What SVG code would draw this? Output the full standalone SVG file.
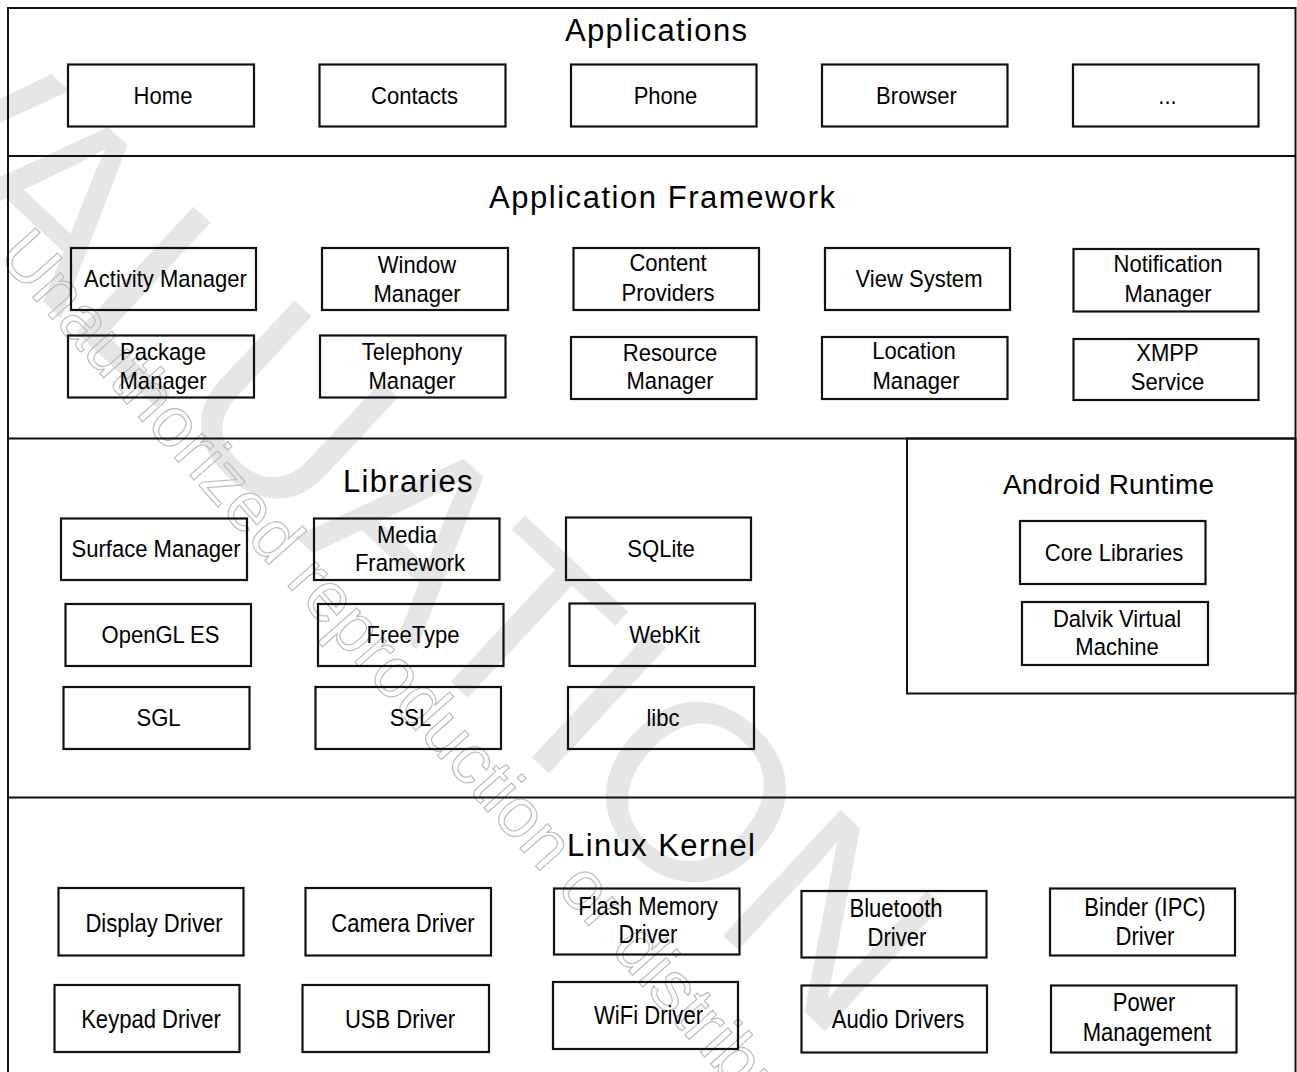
<svg xmlns="http://www.w3.org/2000/svg" width="1297" height="1072" viewBox="0 0 1297 1072">
<style>
.wm{font-family:"Liberation Sans",Arial,sans-serif;font-size:250px;fill:#e6e6e6}
.wm2{font-family:"Liberation Sans",Arial,sans-serif;font-size:70px;fill:none;stroke:#bdbdbd;stroke-width:1.2}
.frame{fill:none;stroke:#111;stroke-width:2}
.box{fill:none;stroke:#111;stroke-width:2.2}
.lbl{font-family:"Liberation Sans",Arial,sans-serif;font-size:24.5px;fill:#000;text-anchor:middle}
.k{font-size:25.5px}
.hd{font-family:"Liberation Sans",Arial,sans-serif;font-size:31px;fill:#000;text-anchor:start}
</style>
<rect width="1297" height="1072" fill="#fff"/>
<g id="watermark">
<text class="wm" transform="translate(-291,-10) rotate(43)">EVALUATION</text>
<text class="wm2" transform="translate(-4,256) rotate(48.5)">Unauthorized reproduction or distribution</text>
</g>
<g id="connectors">
<path class="frame" d="M8,1073 V8 H1295.5 V1073"/>
<line class="frame" x1="8" y1="156" x2="1295.5" y2="156"/>
<line class="frame" x1="8" y1="438.5" x2="1295.5" y2="438.5"/>
<line class="frame" x1="8" y1="797.5" x2="1295.5" y2="797.5"/>
</g>
<g id="layer-applications">
<text class="hd" x="565" y="41" textLength="182" lengthAdjust="spacing">Applications</text>
</g>
<g id="layer-framework">
<text class="hd" x="489" y="208" textLength="346" lengthAdjust="spacing">Application Framework</text>
</g>
<g id="layer-libraries">
<text class="hd" x="343" y="492" textLength="129.5" lengthAdjust="spacing">Libraries</text>
</g>
<g id="android-runtime">
<rect class="frame" x="907" y="438.5" width="388.5" height="255"/>
<text class="hd" x="1003" y="494" style="font-size:28px" textLength="211" lengthAdjust="spacing">Android Runtime</text>
</g>
<g id="layer-kernel">
<text class="hd" x="567" y="856" textLength="188" lengthAdjust="spacing">Linux Kernel</text>
</g>

<g id="home"><rect class="box" x="68" y="64.5" width="186" height="62"/><text class="lbl" transform="translate(163,104) scale(.9,1)">Home</text></g>
<g id="contacts"><rect class="box" x="319.5" y="64.5" width="186" height="62"/><text class="lbl" transform="translate(414.5,104) scale(.9,1)">Contacts</text></g>
<g id="phone"><rect class="box" x="571" y="64.5" width="185.5" height="62"/><text class="lbl" transform="translate(665.5,104) scale(.9,1)">Phone</text></g>
<g id="browser"><rect class="box" x="822" y="64.5" width="185.5" height="62"/><text class="lbl" transform="translate(916.5,104) scale(.9,1)">Browser</text></g>
<g id="more-apps"><rect class="box" x="1073" y="64.5" width="185.5" height="62"/><text class="lbl" transform="translate(1167.5,104) scale(.9,1)">...</text></g>

<g id="activity-manager"><rect class="box" x="71" y="248" width="185" height="62"/><text class="lbl" transform="translate(165.5,287) scale(.9,1)">Activity Manager</text></g>
<g id="window-manager"><rect class="box" x="322" y="248" width="186" height="62"/><text class="lbl" transform="translate(417,273) scale(.9,1)">Window</text><text class="lbl" transform="translate(417,302) scale(.9,1)">Manager</text></g>
<g id="content-providers"><rect class="box" x="573.5" y="248" width="185.5" height="62"/><text class="lbl" transform="translate(668,271) scale(.9,1)">Content</text><text class="lbl" transform="translate(668,300.5) scale(.9,1)">Providers</text></g>
<g id="view-system"><rect class="box" x="825" y="248" width="185" height="62"/><text class="lbl" transform="translate(919,287) scale(.9,1)">View System</text></g>
<g id="notification-manager"><rect class="box" x="1073.5" y="249" width="185" height="62.5"/><text class="lbl" transform="translate(1168,272) scale(.9,1)">Notification</text><text class="lbl" transform="translate(1168,302) scale(.9,1)">Manager</text></g>

<g id="package-manager"><rect class="box" x="68" y="335.5" width="186" height="62"/><text class="lbl" transform="translate(163,360) scale(.9,1)">Package</text><text class="lbl" transform="translate(163,388.5) scale(.9,1)">Manager</text></g>
<g id="telephony-manager"><rect class="box" x="320" y="335.5" width="185.5" height="62"/><text class="lbl" transform="translate(412,360) scale(.9,1)">Telephony</text><text class="lbl" transform="translate(412,388.5) scale(.9,1)">Manager</text></g>
<g id="resource-manager"><rect class="box" x="571" y="337" width="185.5" height="62"/><text class="lbl" transform="translate(670,360.5) scale(.9,1)">Resource</text><text class="lbl" transform="translate(670,389) scale(.9,1)">Manager</text></g>
<g id="location-manager"><rect class="box" x="822" y="337" width="185.5" height="62"/><text class="lbl" transform="translate(914,359) scale(.9,1)">Location</text><text class="lbl" transform="translate(916,388.5) scale(.9,1)">Manager</text></g>
<g id="xmpp-service"><rect class="box" x="1073.5" y="339" width="185" height="61"/><text class="lbl" transform="translate(1167.5,361) scale(.9,1)">XMPP</text><text class="lbl" transform="translate(1167.5,390) scale(.9,1)">Service</text></g>

<g id="surface-manager"><rect class="box" x="61" y="518.5" width="186" height="61.5"/><text class="lbl" transform="translate(156,556.5) scale(.9,1)">Surface Manager</text></g>
<g id="media-framework"><rect class="box" x="314" y="518.5" width="185.5" height="61.5"/><text class="lbl" transform="translate(407,543) scale(.9,1)">Media</text><text class="lbl" transform="translate(410,571) scale(.9,1)">Framework</text></g>
<g id="sqlite"><rect class="box" x="566" y="517.5" width="185" height="62.5"/><text class="lbl" transform="translate(661,556.5) scale(.9,1)">SQLite</text></g>
<g id="opengl-es"><rect class="box" x="65.5" y="604" width="185.5" height="62"/><text class="lbl" transform="translate(160.5,643) scale(.9,1)">OpenGL ES</text></g>
<g id="freetype"><rect class="box" x="318" y="604" width="185.5" height="62"/><text class="lbl" transform="translate(413,643) scale(.9,1)">FreeType</text></g>
<g id="webkit"><rect class="box" x="569.5" y="603.5" width="185.5" height="62.5"/><text class="lbl" transform="translate(664.5,642.5) scale(.9,1)">WebKit</text></g>
<g id="sgl"><rect class="box" x="63.5" y="687" width="186" height="62"/><text class="lbl" transform="translate(158.5,726) scale(.9,1)">SGL</text></g>
<g id="ssl"><rect class="box" x="315.5" y="687" width="185.5" height="62"/><text class="lbl" transform="translate(410.5,726) scale(.9,1)">SSL</text></g>
<g id="libc"><rect class="box" x="568" y="687" width="186" height="62"/><text class="lbl" transform="translate(663,726) scale(.9,1)">libc</text></g>

<g id="core-libraries"><rect class="box" x="1020" y="521" width="185.5" height="63"/><text class="lbl" transform="translate(1114,561) scale(.9,1)">Core Libraries</text></g>
<g id="dalvik-vm"><rect class="box" x="1022" y="602" width="186" height="63"/><text class="lbl" transform="translate(1117,626.5) scale(.9,1)">Dalvik Virtual</text><text class="lbl" transform="translate(1117,655) scale(.9,1)">Machine</text></g>

<g id="display-driver"><rect class="box" x="58.5" y="888" width="185" height="67.5"/><text class="lbl k" transform="translate(154,931.5) scale(.865,1)">Display Driver</text></g>
<g id="camera-driver"><rect class="box" x="305.5" y="888" width="185.5" height="67.5"/><text class="lbl k" transform="translate(403,931.5) scale(.865,1)">Camera Driver</text></g>
<g id="flash-memory-driver"><rect class="box" x="554" y="888.5" width="185.5" height="66"/><text class="lbl k" transform="translate(648,915) scale(.865,1)">Flash Memory</text><text class="lbl k" transform="translate(648,943) scale(.865,1)">Driver</text></g>
<g id="bluetooth-driver"><rect class="box" x="801.5" y="891" width="185" height="66.5"/><text class="lbl k" transform="translate(896,916.5) scale(.865,1)">Bluetooth</text><text class="lbl k" transform="translate(897,945.5) scale(.865,1)">Driver</text></g>
<g id="binder-driver"><rect class="box" x="1050" y="888.5" width="185" height="67"/><text class="lbl k" transform="translate(1145,916) scale(.865,1)">Binder (IPC)</text><text class="lbl k" transform="translate(1145,945) scale(.865,1)">Driver</text></g>
<g id="keypad-driver"><rect class="box" x="54.5" y="985" width="185" height="67"/><text class="lbl k" transform="translate(151,1028) scale(.865,1)">Keypad Driver</text></g>
<g id="usb-driver"><rect class="box" x="302.5" y="985" width="186.5" height="67"/><text class="lbl k" transform="translate(400,1028) scale(.865,1)">USB Driver</text></g>
<g id="wifi-driver"><rect class="box" x="553" y="982" width="185" height="67"/><text class="lbl k" transform="translate(648.5,1023.5) scale(.865,1)">WiFi Driver</text></g>
<g id="audio-drivers"><rect class="box" x="801.5" y="985.5" width="185.5" height="67"/><text class="lbl k" transform="translate(898,1028) scale(.865,1)">Audio Drivers</text></g>
<g id="power-management"><rect class="box" x="1051" y="985.5" width="185.5" height="67"/><text class="lbl k" transform="translate(1144,1011) scale(.865,1)">Power</text><text class="lbl k" transform="translate(1147,1041) scale(.865,1)">Management</text></g>
</svg>
